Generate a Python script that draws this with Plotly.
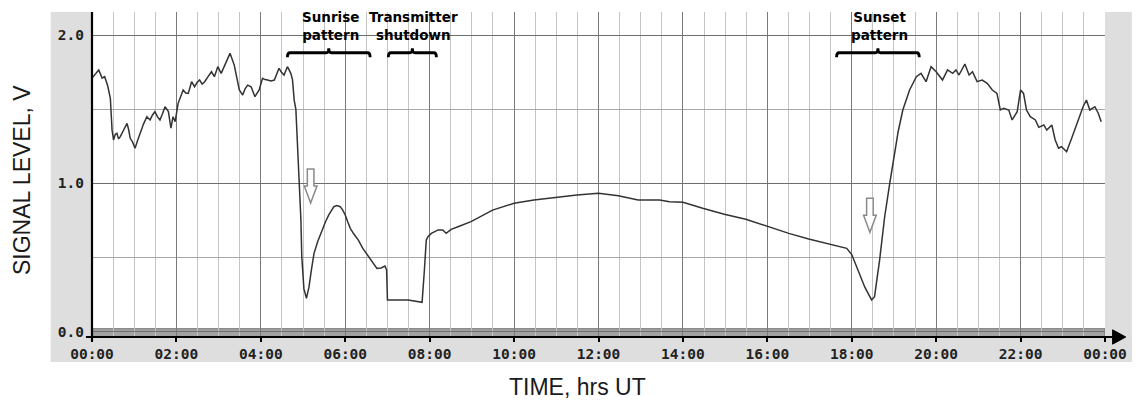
import plotly.graph_objects as go

# ---- data (hours UT, volts) ----
time_h = [0.00, 0.08, 0.16, 0.24, 0.30, 0.37, 0.435, 0.475, 0.51, 0.55, 0.59, 0.63, 0.67, 0.75, 0.83, 0.87,
          0.905, 0.96, 1.02, 1.08, 1.14, 1.22, 1.30, 1.376, 1.43, 1.49, 1.55, 1.61, 1.67, 1.73, 1.81, 1.87,
          1.92, 1.97, 2.04, 2.10, 2.16, 2.22, 2.28, 2.36, 2.43, 2.49, 2.55, 2.61, 2.67, 2.75, 2.83, 2.90,
          2.98, 3.06, 3.12, 3.18, 3.27, 3.37, 3.43, 3.49, 3.57, 3.63, 3.69, 3.77, 3.86, 3.96, 4.04, 4.10,
          4.16, 4.24, 4.32, 4.38, 4.43, 4.49, 4.55, 4.63, 4.71, 4.75, 4.79, 4.83, 4.86, 4.89, 4.92, 4.95,
          4.97, 5.02, 5.08, 5.14, 5.20, 5.26, 5.35, 5.45, 5.53, 5.61, 5.67, 5.73, 5.80, 5.88, 5.94, 6.00,
          6.06, 6.12, 6.20, 6.31, 6.42, 6.55, 6.65, 6.75, 6.85, 6.94, 6.98, 7.00, 7.49, 7.65, 7.82, 7.87,
          7.92, 7.96, 8.04, 8.20, 8.31, 8.39, 8.51, 8.67, 8.98, 9.49, 10.0, 10.47, 10.98, 11.49, 12.0, 12.47,
          12.94, 13.45, 13.68, 14.0, 14.47, 14.98, 15.49, 16.0, 16.51, 16.98, 17.49, 17.80, 17.88, 18.0,
          18.15, 18.31, 18.47, 18.54, 18.66, 18.78, 18.90, 19.02, 19.10, 19.21, 19.37, 19.53, 19.64, 19.76,
          19.88, 20.0, 20.15, 20.27, 20.39, 20.47, 20.54, 20.68, 20.78, 20.86, 20.97, 21.09, 21.21, 21.33,
          21.44, 21.52, 21.60, 21.72, 21.80, 21.92, 22.0, 22.07, 22.14, 22.23, 22.35, 22.43, 22.55, 22.62,
          22.74, 22.82, 22.90, 22.97, 23.09, 23.21, 23.29, 23.41, 23.48, 23.56, 23.64, 23.76, 23.84, 23.91]
signal_v = [1.71, 1.74, 1.765, 1.71, 1.72, 1.66, 1.574, 1.36, 1.293, 1.33, 1.338, 1.30, 1.315, 1.36, 1.405, 1.36,
            1.304, 1.28, 1.237, 1.29, 1.338, 1.40, 1.45, 1.428, 1.46, 1.484, 1.45, 1.428, 1.47, 1.517, 1.484, 1.372,
            1.45, 1.416, 1.54, 1.58, 1.63, 1.61, 1.607, 1.686, 1.652, 1.68, 1.697, 1.67, 1.686, 1.72, 1.753, 1.72,
            1.787, 1.742, 1.78, 1.81, 1.877, 1.798, 1.72, 1.63, 1.596, 1.64, 1.663, 1.652, 1.585, 1.63, 1.709, 1.70,
            1.697, 1.69, 1.697, 1.74, 1.776, 1.75, 1.731, 1.787, 1.742, 1.70, 1.562, 1.50, 1.30, 1.10, 1.00, 0.75,
            0.506, 0.29, 0.225, 0.30, 0.42, 0.528, 0.61, 0.686, 0.74, 0.787, 0.82, 0.843, 0.85, 0.843, 0.82, 0.787,
            0.74, 0.697, 0.66, 0.618, 0.56, 0.506, 0.46, 0.427, 0.43, 0.443, 0.416, 0.214, 0.214, 0.205, 0.198, 0.394,
            0.618, 0.64, 0.663, 0.686, 0.686, 0.663, 0.69, 0.708, 0.742, 0.82, 0.866, 0.888, 0.906, 0.922, 0.933, 0.917,
            0.888, 0.888, 0.877, 0.873, 0.832, 0.792, 0.758, 0.708, 0.663, 0.625, 0.591, 0.569, 0.562, 0.52,
            0.416, 0.30, 0.214, 0.236, 0.483, 0.775, 1.0, 1.225, 1.35, 1.495, 1.63, 1.72, 1.742, 1.686,
            1.787, 1.753, 1.697, 1.765, 1.742, 1.765, 1.731, 1.805, 1.731, 1.753, 1.686, 1.697, 1.675, 1.63,
            1.607, 1.495, 1.506, 1.495, 1.428, 1.484, 1.63, 1.607, 1.495, 1.45, 1.428, 1.378, 1.394, 1.36,
            1.394, 1.293, 1.237, 1.247, 1.214, 1.304, 1.372, 1.461, 1.517, 1.562, 1.495, 1.517, 1.473, 1.416]

x_tick_vals = [0, 2, 4, 6, 8, 10, 12, 14, 16, 18, 20, 22, 24]
x_tick_text = ["00:00", "02:00", "04:00", "06:00", "08:00", "10:00", "12:00",
               "14:00", "16:00", "18:00", "20:00", "22:00", "00:00"]
y_tick_vals = [0.0, 1.0, 2.0]

# event annotations: label, bracket start, bracket end (hours)
event_labels = ["Sunrise<br>pattern", "Transmitter<br>shutdown", "Sunset<br>pattern"]
event_start = [4.63, 7.02, 17.64]
event_end = [6.59, 8.16, 19.60]
# minimum markers (hours)
arrow_times = [5.18, 18.43]
arrow_tops = [1.097, 0.90]

fig = go.Figure()
fig.add_trace(go.Scatter(x=time_h, y=signal_v, mode="lines",
                         line=dict(color="#333333", width=1.5), hoverinfo="skip"))

shapes = []
FRAME = "#dedede"
# gray frame panels (paper coords)
shapes.append(dict(type="rect", xref="paper", yref="paper", x0=-0.0407, x1=0.0, y0=-0.0769, y1=1.0,
                   fillcolor=FRAME, line=dict(width=0), layer="below"))
shapes.append(dict(type="rect", xref="paper", yref="paper", x0=-0.0407, x1=1.0265, y0=-0.0769, y1=0.0,
                   fillcolor=FRAME, line=dict(width=0), layer="below"))
shapes.append(dict(type="rect", xref="paper", yref="paper", x0=1.0, x1=1.0265, y0=-0.0769, y1=1.0,
                   fillcolor=FRAME, line=dict(width=0), layer="below"))
# dark base band near zero
shapes.append(dict(type="rect", xref="x", yref="y", x0=0, x1=24, y0=-0.036, y1=0.02,
                   fillcolor="#a2a2a2", line=dict(color="#777777", width=1), layer="below"))
# axis lines
shapes.append(dict(type="line", xref="paper", yref="paper", x0=-0.006, x1=1.009, y0=0, y1=0,
                   line=dict(color="black", width=2.2)))
shapes.append(dict(type="path", xref="paper", yref="paper",
                   path="M 1.0075 0.022 L 1.0205 0 L 1.0075 -0.022 Z",
                   fillcolor="black", line=dict(color="black", width=1)))
shapes.append(dict(type="line", xref="paper", yref="paper", x0=0, x1=0, y0=-0.012, y1=1.0,
                   line=dict(color="black", width=2.2)))

# brackets
yb, dend, dmid = 1.881, 0.03, 0.03
for s, e in zip(event_start, event_end):
    m = (s + e) / 2
    k = 0.06
    path = (f"M {s},{yb - dend} Q {s},{yb} {s + k},{yb} L {m - k},{yb} Q {m},{yb} {m},{yb + dmid} "
            f"Q {m},{yb} {m + k},{yb} L {e - k},{yb} Q {e},{yb} {e},{yb - dend}")
    shapes.append(dict(type="path", xref="x", yref="y", path=path,
                       line=dict(color="black", width=2.8)))

# hollow down arrows
for t, top in zip(arrow_times, arrow_tops):
    sw, hw = 0.078, 0.15
    shaft_bot = top - 0.115
    tip = top - 0.23
    path = (f"M {t - sw},{top} L {t + sw},{top} L {t + sw},{shaft_bot} L {t + hw},{shaft_bot} "
            f"L {t},{tip} L {t - hw},{shaft_bot} L {t - sw},{shaft_bot} Z")
    shapes.append(dict(type="path", xref="x", yref="y", path=path, fillcolor="white",
                       line=dict(color="#8a8a8a", width=1.5)))

annotations = []
for lab, s, e in zip(event_labels, event_start, event_end):
    annotations.append(dict(x=(s + e) / 2 + 0.03, y=2.06, xref="x", yref="y", text=lab, showarrow=False,
                            xanchor="center", yanchor="middle",
                            font=dict(family="DejaVu Sans", size=13.5, color="black", weight="bold")))

annotations.append(dict(x=-0.0691, y=0.483, xref="paper", yref="paper", text="SIGNAL LEVEL, V",
                        textangle=-90, showarrow=False, xanchor="center", yanchor="middle",
                        font=dict(family="Liberation Sans", size=23, color="#1a1a1a")))
annotations.append(dict(x=0.4797, y=-0.154, xref="paper", yref="paper", text="TIME, hrs UT",
                        showarrow=False, xanchor="center", yanchor="middle",
                        font=dict(family="Liberation Sans", size=23, color="#1a1a1a")))

tickfont = dict(family="DejaVu Sans Mono", size=14.5, color="#222222", weight="bold")

fig.update_layout(
    width=1139, height=404,
    margin=dict(l=91.5, r=27, t=12, b=67, pad=0),
    paper_bgcolor="white", plot_bgcolor="white",
    showlegend=False,
    shapes=shapes, annotations=annotations,
    xaxis=dict(range=[0, 24], tickvals=x_tick_vals, ticktext=x_tick_text,
               showgrid=True, gridcolor="#7a7a7a", gridwidth=1.3,
               minor=dict(dtick=0.5, tick0=0, showgrid=True, gridcolor="#c4c4c4", gridwidth=1.3),
               ticks="outside", ticklen=4, tickwidth=1.5, tickcolor="black",
               showline=False, zeroline=False, tickfont=tickfont, fixedrange=True),
    yaxis=dict(range=[-0.036, 2.156], tickvals=y_tick_vals, tickformat=".1f",
               showgrid=True, gridcolor="#6e6e6e", gridwidth=1.3,
               minor=dict(dtick=0.5, tick0=0, showgrid=True, gridcolor="#a8a8a8", gridwidth=1.2),
               ticks="", ticklabelstandoff=7,
               showline=False, zeroline=False, tickfont=tickfont, fixedrange=True),
)

fig.write_html("out.html")
